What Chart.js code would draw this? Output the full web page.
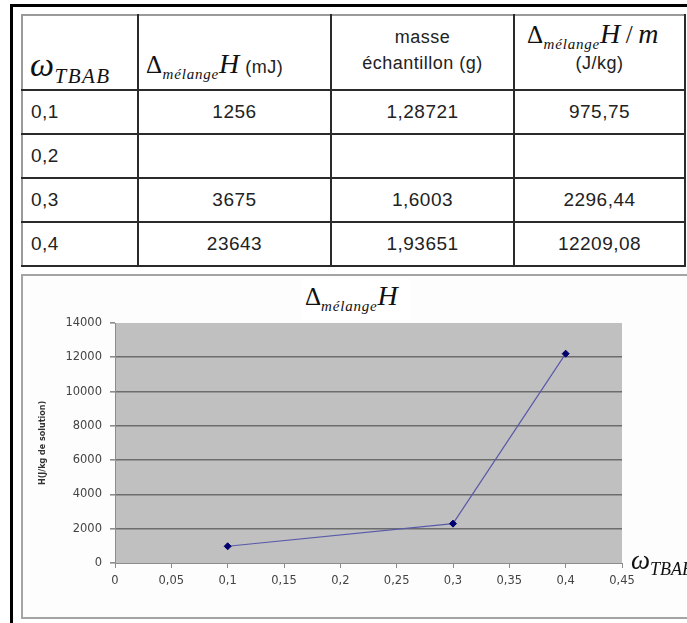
<!DOCTYPE html>
<html>
<head>
<meta charset="utf-8">
<script src="https://cdn.jsdelivr.net/npm/chart.js@4.4.1/dist/chart.umd.min.js"></script>
<style>
  html, body { margin: 0; padding: 0; background: #fff; }
  body { width: 687px; height: 623px; position: relative; overflow: hidden; }
  #frame { position: absolute; left: 10px; top: 4px; width: 720px; height: 660px;
           border-left: 3px solid #000; border-top: 3px solid #000; }
  .math { font-family: "Liberation Serif", "DejaVu Serif", serif; color: #111; white-space: nowrap; }
  .math i { font-style: italic; }
  table { position: absolute; left: 21px; top: 14px; width: 663px; border-collapse: collapse;
          table-layout: fixed; font-family: "Liberation Sans", Arial, sans-serif; font-size: 19px;
          color: #222; letter-spacing: 0.5px; }
  td { border: 2px solid #2a2a2a; padding: 0; text-align: center; white-space: nowrap; }
  tr:first-child td { border-top-color: #9a9a9a; }
  td:first-child { border-left-color: #9a9a9a; text-align: left; padding-left: 8px; }
  thead td { padding: 0 !important; }
  .hc { position: relative; height: 73px; font-size: 18px; }
  .hc > * { position: absolute; }
  tbody td { height: 42px; }
  #chartBox { position: absolute; left: 21px; top: 274px; width: 690px; height: 341px;
              border: 2px solid #a4a4a4; background: #fdfdfd; }
  #chart { position: absolute; left: 22px; top: 276px; }
  #title { position: absolute; left: 302px; top: 279px; width: 108px; height: 41px; background: #fff; }
  #title span.txt { position: absolute; left: 3px; top: 1px; }
  #xlabel { position: absolute; left: 631px; top: 545px; white-space: nowrap; }
  .d { font-size: 25px; }
  .sub { font-size: 15px; font-style: italic; position: relative; top: 6px; letter-spacing: 0.8px; }
  .H { font-size: 28px; font-style: italic; }
</style>
</head>
<body>
<div id="frame"></div>
<table id="dataTable">
  <colgroup><col style="width:116px"><col style="width:193px"><col style="width:183px"><col style="width:171px"></colgroup>
  <thead>
    <tr>
      <td><div class="hc">
        <span class="math" style="left:7px;top:30px"><i style="font-size:34px">ω</i><i style="font-size:21px;position:relative;top:7px;letter-spacing:1.5px">TBAB</i></span>
      </div></td>
      <td><div class="hc">
        <span style="left:7px;top:32px"><span class="math"><span class="d">Δ</span><span class="sub">mélange</span><span class="H">H</span></span> (mJ)</span>
      </div></td>
      <td><div class="hc">
        <span style="left:0;right:0;top:8px;line-height:26px">masse<br>échantillon (g)</span>
      </div></td>
      <td><div class="hc">
        <span class="math" style="left:12px;top:2px"><span class="d">Δ</span><span class="sub">mélange</span><span class="H">H</span> <span style="font-size:25px">/</span> <i style="font-size:28px">m</i></span>
        <span style="left:0;right:0;top:34px;line-height:26px">(J/kg)</span>
      </div></td>
    </tr>
  </thead>
  <tbody id="tableBody"></tbody>
</table>
<div id="chartBox"></div>
<canvas id="chart" width="664" height="342"></canvas>
<div id="title"><span class="txt math"><span class="d">Δ</span><span class="sub">mélange</span><span class="H">H</span></span></div>
<div id="xlabel" class="math"><i style="font-size:27px">ω</i><i style="font-size:18px;position:relative;top:6px">TBAB</i></div>

<script>
// table / chart data
const omegaValues = [0.1, 0.2, 0.3, 0.4];
const enthalpyMJ = [1256, null, 3675, 23643];
const sampleMass = [1.28721, null, 1.6003, 1.93651];
const enthalpyPerMass = [975.75, null, 2296.44, 12209.08];

const xTickValues = [0, 0.05, 0.1, 0.15, 0.2, 0.25, 0.3, 0.35, 0.4, 0.45];
const xTickLabels = ['0', '0,05', '0,1', '0,15', '0,2', '0,25', '0,3', '0,35', '0,4', '0,45'];
const yTickValues = [0, 2000, 4000, 6000, 8000, 10000, 12000, 14000];
const yTickLabels = ['0', '2000', '4000', '6000', '8000', '10000', '12000', '14000'];

function frNum(v) {
    if (v === null || v === undefined) return '';
    return String(v).replace('.', ',');
}

// fill the table rows
const body = document.getElementById('tableBody');
omegaValues.forEach(function (w, i) {
    const tr = document.createElement('tr');
    [frNum(w), frNum(enthalpyMJ[i]), frNum(sampleMass[i]), frNum(enthalpyPerMass[i])].forEach(function (txt) {
        const td = document.createElement('td');
        td.textContent = txt;
        tr.appendChild(td);
    });
    body.appendChild(tr);
});

// grey plot area like the spreadsheet
const plotBackground = {
    id: 'plotBackground',
    beforeDraw(chart) {
        const a = chart.chartArea;
        const ctx = chart.ctx;
        ctx.save();
        ctx.fillStyle = '#c0c0c0';
        ctx.fillRect(a.left, a.top, a.right - a.left, a.bottom - a.top);
        ctx.restore();
    }
};

const points = [];
omegaValues.forEach(function (w, i) {
    if (enthalpyPerMass[i] !== null) points.push({ x: w, y: enthalpyPerMass[i] });
});

const tickFont = { family: '"DejaVu Sans", sans-serif', size: 11.5 };

new Chart(document.getElementById('chart').getContext('2d'), {
    type: 'line',
    data: {
        datasets: [{
            data: points,
            borderColor: '#5a5aaa',
            borderWidth: 1.2,
            pointStyle: 'rectRot',
            pointRadius: 3.5,
            pointBackgroundColor: '#00006e',
            pointBorderColor: '#00006e',
            pointBorderWidth: 1,
            tension: 0
        }]
    },
    options: {
        responsive: false,
        animation: false,
        layout: { padding: { left: 10, right: 64, top: 47, bottom: 30 } },
        plugins: { legend: { display: false }, tooltip: { enabled: false } },
        scales: {
            x: {
                type: 'linear',
                min: 0,
                max: 0.45,
                afterBuildTicks: function (s) { s.ticks = xTickValues.map(function (v) { return { value: v }; }); },
                afterFit: function (s) { s.height = 25; },
                grid: { drawOnChartArea: false, drawTicks: true, tickLength: 5, tickColor: '#8c8c8c' },
                border: { color: '#8c8c8c', width: 1 },
                ticks: {
                    callback: function (v, i) { return xTickLabels[i]; },
                    color: '#444',
                    font: tickFont,
                    padding: 6,
                    maxRotation: 0,
                    autoSkip: false
                }
            },
            y: {
                type: 'linear',
                min: 0,
                max: 14000,
                afterBuildTicks: function (s) { s.ticks = yTickValues.map(function (v) { return { value: v }; }); },
                afterFit: function (s) { s.width = 83; },
                grid: {
                    color: function (c) {
                        if (!c.tick || c.tick.value === 14000 || c.tick.value === 0) return 'rgba(0,0,0,0)';
                        return '#6c6c6c';
                    },
                    lineWidth: 1.6,
                    tickLength: 5,
                    tickColor: '#8c8c8c'
                },
                border: { color: '#8c8c8c', width: 1 },
                title: {
                    display: true,
                    text: 'H(J/kg de solution)',
                    color: '#333',
                    font: { family: '"DejaVu Sans", sans-serif', size: 8, weight: 'bold' },
                    padding: { top: 6, bottom: 0 }
                },
                ticks: {
                    callback: function (v, i) { return yTickLabels[i]; },
                    color: '#444',
                    font: tickFont,
                    padding: 8
                }
            }
        }
    },
    plugins: [plotBackground]
});
</script>
</body>
</html>
